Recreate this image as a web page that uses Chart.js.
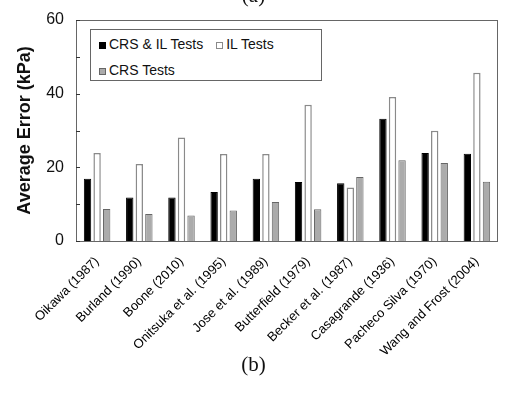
<!DOCTYPE html>
<html>
<head>
<meta charset="utf-8">
<script src="https://cdn.jsdelivr.net/npm/chart.js@4.4.1/dist/chart.umd.min.js"></script>
<style>
  html, body { margin: 0; padding: 0; background: #fff; }
  #wrap { position: relative; width: 515px; height: 399px; }
  #legend {
    position: absolute; left: 90px; top: 29px; width: 232px; height: 52px;
    border: 1px solid #666; background: #fff; box-sizing: border-box;
    font-family: "Liberation Sans", Arial, sans-serif; font-size: 14px; color: #111;
    padding: 1px 0 0 8px; line-height: 26px;
  }
  #legend span.item { display: inline-block; margin-right: 13px; }
  #legend i { display: inline-block; width: 7px; height: 7px; margin-right: 3px; box-sizing: border-box; vertical-align: 0px; }
  #caption {
    position: absolute; left: -4px; width: 515px; top: 352px; text-align: center;
    font-family: "Liberation Serif", "Times New Roman", serif; font-size: 21px; color: #111;
  }
  #topcap {
    position: absolute; left: -4px; width: 515px; top: -17px; text-align: center;
    font-family: "Liberation Serif", "Times New Roman", serif; font-size: 21px; color: #111;
  }
</style>
</head>
<body>
<div id="wrap">
  <canvas id="chart" width="515" height="399"></canvas>
  <div id="legend"></div>
  <div id="topcap">(a)</div>
  <div id="caption">(b)</div>
</div>
<script>
const categories = ["Oikawa (1987)", "Burland (1990)", "Boone (2010)", "Onitsuka et al. (1995)",
  "Jose et al. (1989)", "Butterfield (1979)", "Becker et al. (1987)", "Casagrande (1936)",
  "Pacheco Silva (1970)", "Wang and Frost (2004)"];
const crsIl = [16.9, 11.8, 11.8, 13.3, 16.9, 16.0, 15.7, 33.2, 23.9, 23.7];
const ilOnly = [23.9, 20.9, 28.1, 23.6, 23.6, 37.0, 14.5, 39.1, 29.9, 45.7];
const crsOnly = [8.7, 7.3, 6.9, 8.3, 10.6, 8.6, 17.4, 21.9, 21.2, 16.1];
const yTicks = [0, 20, 40, 60];

const datasets = [
  { label: "CRS & IL Tests", data: crsIl, backgroundColor: "#000", borderColor: "#000", borderWidth: 1 },
  { label: "IL Tests", data: ilOnly, backgroundColor: "#fff", borderColor: "#8a8a8a", borderWidth: 1.5 },
  { label: "CRS Tests", data: crsOnly, backgroundColor: "#ababab", borderColor: "#666", borderWidth: 1 }
];
datasets.forEach(d => { d.categoryPercentage = 0.68; d.barPercentage = 0.77; });

// inner tick marks on the y axis + plot frame
const frame = {
  id: "frame",
  afterDraw(chart) {
    const { ctx, chartArea: a, scales } = chart;
    ctx.save();
    ctx.strokeStyle = "#666";
    ctx.lineWidth = 1;
    ctx.strokeRect(a.left + 0.5, a.top + 0.5, a.right - a.left - 1, a.bottom - a.top);
    ctx.strokeStyle = "#333";
    scales.y.ticks.forEach(t => {
      const y = Math.round(scales.y.getPixelForValue(t.value)) + 0.5;
      ctx.beginPath();
      ctx.moveTo(a.left, y);
      ctx.lineTo(a.left + 4, y);
      ctx.stroke();
    });
    ctx.restore();
  }
};

const chart = new Chart(document.getElementById("chart"), {
  type: "bar",
  data: { labels: categories, datasets },
  options: {
    responsive: false,
    animation: false,
    layout: { padding: { top: 20, right: 17, left: 0, bottom: 0 } },
    plugins: { legend: { display: false }, tooltip: { enabled: false } },
    scales: {
      x: {
        grid: { display: false },
        border: { display: false },
        afterFit(s) { s.height = 158; },
        ticks: {
          color: "#000", font: { family: "Liberation Sans", size: 13 },
          maxRotation: 45, minRotation: 45, padding: 5, autoSkip: false
        }
      },
      y: {
        min: 0, max: 60,
        grid: { display: false },
        border: { display: false },
        afterFit(s) { s.width = 76; },
        ticks: {
          stepSize: 5, color: "#111", padding: 4,
          font: { family: "Liberation Sans", size: 16 },
          callback: v => yTicks.includes(v) ? v : ""
        },
        title: {
          display: true, text: "Average Error (kPa)", color: "#111",
          font: { family: "Liberation Sans", size: 18, weight: "bold" }, padding: { top: 14, bottom: 0 }
        }
      }
    }
  },
  plugins: [frame]
});

const legend = document.getElementById("legend");
datasets.forEach((d, i) => {
  const s = document.createElement("span");
  s.className = "item";
  s.innerHTML = `<i style="background:${d.backgroundColor};border:1px solid ${d.borderColor}"></i>${d.label}`;
  legend.appendChild(s);
  if (i === 1) legend.appendChild(document.createElement("br"));
});
</script>
</body>
</html>
